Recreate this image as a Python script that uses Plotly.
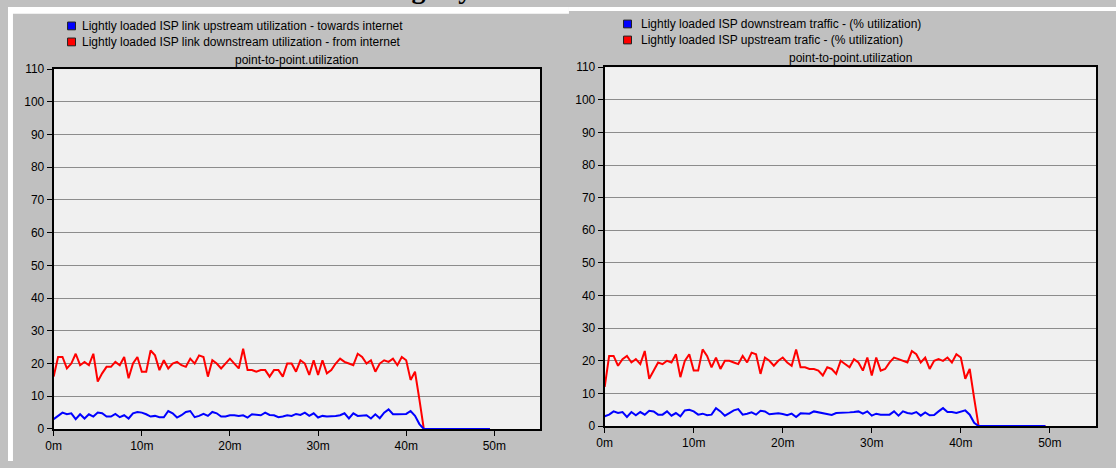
import plotly.graph_objects as go

# ---------------- data ----------------
minutes = [i * 0.5 for i in range(100)]
x_tick_vals = [0, 10, 20, 30, 40, 50]
x_tick_text = ["0m", "10m", "20m", "30m", "40m", "50m"]
y_tick_vals = [0, 10, 20, 30, 40, 50, 60, 70, 80, 90, 100, 110]

left_names = ["Lightly loaded ISP link upstream utilization - towards internet",
              "Lightly loaded ISP link downstream utilization - from internet"]
right_names = ["Lightly loaded ISP downstream traffic - (% utilization)",
               "Lightly loaded ISP upstream trafic - (% utilization)"]
panel_title = "point-to-point.utilization"

left_red = [16, 22, 22, 18.5, 20, 23, 19.5, 20.5, 19.5, 23,
            14.5, 17, 19, 19, 20.5, 19.5, 22, 15.5, 20, 22,
            17.5, 17.5, 24, 22.5, 18, 21, 18.5, 20, 20.5, 19.5,
            19, 21.5, 20, 22.5, 22, 16, 21, 20, 18.5, 20,
            21.5, 20, 18.5, 24.5, 18, 18, 17.5, 18, 18, 16,
            18, 18, 16, 20, 20, 17.5, 21, 20, 16.5, 21,
            16.5, 21, 17, 18, 20, 21.5, 20.5, 20, 19.5, 23,
            22, 20, 21, 17.5, 20, 21, 20.5, 21.5, 19.5, 22,
            21, 15, 17.5, 9, 0,
            0, 0, 0, 0, 0, 0, 0, 0, 0, 0, 0, 0, 0, 0, 0]
left_blue = [3, 4, 5, 4.5, 4.8, 3, 4.5, 3.2, 4.5, 3.8,
             5, 4.8, 3.8, 3.8, 4.6, 3.6, 4.2, 3.2, 4.8, 5.2,
             5, 4.5, 3.8, 4, 3.6, 3.6, 5.5, 4.8, 3.5, 4.2,
             5.2, 5.5, 3.6, 4, 4.6, 4, 5.2, 4.8, 3.8, 3.8,
             4.2, 4.2, 4, 4.2, 3.5, 4.5, 4.3, 4.2, 5, 4.3,
             4.2, 3.6, 3.8, 4.2, 4, 4.6, 4.3, 5, 4, 4.8,
             3.5, 4, 3.8, 3.8, 4, 4.2, 4.8, 3.2, 4.8, 4,
             4.2, 4.2, 3.2, 4.5, 3.3, 5, 6, 4.5, 4.5, 4.5,
             4.6, 5.5, 4, 1.5, 0,
             0, 0, 0, 0, 0, 0, 0, 0, 0, 0, 0, 0, 0, 0, 0]
right_red = [12, 21.5, 21.5, 18.5, 20.5, 21.5, 19.5, 20.5, 19, 23,
             14.5, 17, 19.5, 19, 20, 19.5, 22, 15, 20, 22,
             17, 17, 23.5, 21.5, 18, 21, 17.5, 20, 20, 19.5,
             19, 21.5, 19.5, 22.5, 22, 16, 21, 20, 18.5, 20,
             21, 19.5, 18.5, 23.5, 18, 18, 17.5, 17.5, 17, 15.5,
             18, 17.5, 16, 20, 19, 18, 20.5, 19.5, 17, 21,
             15.5, 21, 17, 17.5, 19.5, 21, 20.5, 20, 19.5, 23,
             22, 19.5, 21, 17.5, 20, 20.5, 20, 21, 19.5, 22,
             21, 14.5, 17.5, 8.5, 0,
             0, 0, 0, 0, 0, 0, 0, 0, 0, 0, 0, 0, 0, 0, 0]
right_blue = [3, 3.5, 4.5, 4, 4.3, 2.8, 4.3, 3.3, 4.3, 3.5,
              4.7, 4.5, 3.5, 3.5, 4.5, 3.2, 4, 3, 4.8, 5,
              4.5, 3.5, 3.8, 3.3, 3.5, 5.5, 4.5, 3.2, 4, 4.8,
              5.2, 3.5, 3.8, 4.2, 3.5, 4.7, 4.5, 3.6, 3.8, 3.9,
              3.7, 3.3, 3.8, 2.8, 3.9, 3.8, 3.8, 4.5, 4.2, 4,
              3.6, 3.4, 4, 4, 4.1, 4.2, 4.3, 4.5, 3.8, 4.5,
              3.2, 3.8, 3.5, 3.5, 3.5, 4.5, 3.2, 4.5, 4, 3.8,
              4.3, 3.2, 4.2, 3.3, 3.4, 4.5, 5.5, 4.3, 4.3, 4,
              4.3, 4.8, 3.5, 1, 0,
              0, 0, 0, 0, 0, 0, 0, 0, 0, 0, 0, 0, 0, 0, 0]

# ---------------- layout helpers ----------------
W, H = 1116, 468
RED, BLUE = "#ff0000", "#0000ff"
FONT = "Liberation Sans"


def px(x):
    return x / W


def py(y):
    return 1 - y / H


fig = go.Figure()
fig.add_trace(go.Scatter(x=minutes, y=left_red, mode="lines", line=dict(color=RED, width=2),
                         name=left_names[1], xaxis="x", yaxis="y", showlegend=False))
fig.add_trace(go.Scatter(x=minutes, y=left_blue, mode="lines", line=dict(color=BLUE, width=2),
                         name=left_names[0], xaxis="x", yaxis="y", showlegend=False))
fig.add_trace(go.Scatter(x=minutes, y=right_red, mode="lines", line=dict(color=RED, width=2),
                         name=right_names[1], xaxis="x2", yaxis="y2", showlegend=False))
fig.add_trace(go.Scatter(x=minutes, y=right_blue, mode="lines", line=dict(color=BLUE, width=2),
                         name=right_names[0], xaxis="x2", yaxis="y2", showlegend=False))

xa = dict(range=[0, 55.2], tickmode="array", tickvals=x_tick_vals, ticktext=x_tick_text,
          showgrid=False, zeroline=False, showline=True, linecolor="#000000", linewidth=2,
          mirror=True, ticks="outside", ticklen=5, tickcolor="#000000", tickwidth=1,
          tickfont=dict(family=FONT, size=12, color="#000000"), fixedrange=True)
ya = dict(range=[0, 110], tickmode="array", tickvals=y_tick_vals,
          showgrid=True, gridcolor="#8c8c8c", gridwidth=1, zeroline=False,
          showline=True, linecolor="#000000", linewidth=2, mirror=True,
          ticks="outside", ticklen=5, tickcolor="#000000", tickwidth=1,
          tickfont=dict(family=FONT, size=12, color="#000000"), fixedrange=True)

fig.update_layout(
    width=W, height=H,
    margin=dict(l=0, r=0, t=0, b=0, pad=0),
    paper_bgcolor="#c0c0c0", plot_bgcolor="#f0f0f0",
    showlegend=False,
    font=dict(family=FONT, size=12, color="#000000"),
    xaxis=dict(xa, domain=[px(46), px(536)], anchor="y"),
    yaxis=dict(ya, domain=[py(435), py(64)], anchor="x"),
    xaxis2=dict(xa, domain=[px(601), px(1096)], anchor="y2"),
    yaxis2=dict(ya, domain=[py(432), py(62)], anchor="x2"),
)

shapes = [
    # white page strips around the screenshots
    dict(type="rect", xref="paper", yref="paper", x0=0, x1=px(565), y0=py(7), y1=1,
         fillcolor="#ffffff", line=dict(width=0), layer="above"),
    dict(type="rect", xref="paper", yref="paper", x0=px(565), x1=1, y0=py(4), y1=1,
         fillcolor="#ffffff", line=dict(width=0), layer="above"),
    dict(type="rect", xref="paper", yref="paper", x0=0, x1=px(5), y0=0, y1=1,
         fillcolor="#ffffff", line=dict(width=0), layer="above"),
]
annotations = [
    dict(text="<b>Lightly</b>", xref="paper", yref="paper", x=px(424), y=py(-1.5),
         xanchor="center", yanchor="bottom", showarrow=False,
         font=dict(family="Liberation Serif", size=28, color="#000000")),
]

legend_rows = [
    (left_names, 60, 73, [19.5, 36]),
    (right_names, 620, 636, [17.5, 34]),
]
for names, sx, tx, rows in legend_rows:
    for name, color, yc in zip(names, [BLUE, RED], rows):
        shapes.append(dict(type="rect", xref="paper", yref="paper",
                           x0=px(sx), x1=px(sx + 8), y0=py(yc + 4), y1=py(yc - 4),
                           fillcolor=color, line=dict(color="#202020", width=1), layer="above"))
        annotations.append(dict(text=name, xref="paper", yref="paper", x=px(tx), y=py(yc),
                                xanchor="left", yanchor="middle", showarrow=False,
                                font=dict(family=FONT, size=12, color="#000000")))

for xd, yt in [((46, 536), 55), ((601, 1096), 53)]:
    annotations.append(dict(text=panel_title, xref="paper", yref="paper",
                            x=px((xd[0] + xd[1]) / 2), y=py(yt), xanchor="center",
                            yanchor="middle", showarrow=False,
                            font=dict(family=FONT, size=12, color="#000000")))

fig.update_layout(shapes=shapes, annotations=annotations)
fig.write_html("out.html", config={"displayModeBar": False},
               post_script="document.body.style.margin='0';document.body.style.overflow='hidden';")
